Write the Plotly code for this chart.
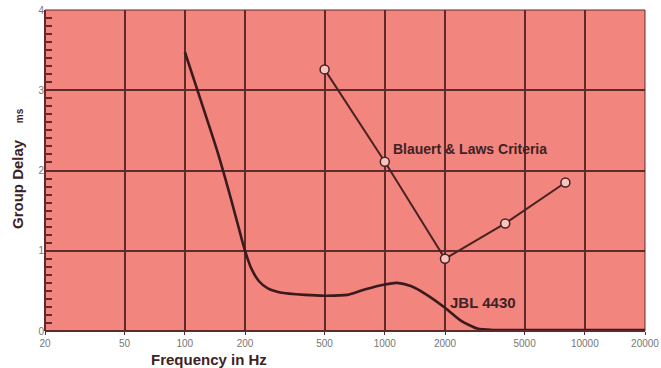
import numpy as np
import plotly.graph_objects as go

# Data
jbl_freq = [100, 120, 145, 170, 190, 200, 215, 235, 260, 300, 400, 500, 650, 800, 1000, 1150, 1350, 1600, 2000, 2400, 2900, 3500, 5000, 10000, 20000]
jbl_delay = [3.48, 2.88, 2.25, 1.65, 1.2, 1.0, 0.78, 0.62, 0.53, 0.48, 0.45, 0.44, 0.45, 0.52, 0.58, 0.6, 0.56, 0.46, 0.29, 0.13, 0.03, 0.012, 0.012, 0.012, 0.012]

blauert_freq = [500, 1000, 2000, 4000, 8000]
blauert_delay = [3.26, 2.11, 0.9, 1.34, 1.85]

x_tickvals = [20, 50, 100, 200, 500, 1000, 2000, 5000, 10000, 20000]
x_ticktext = ["20", "50", "100", "200", "500", "1000", "2000", "5000", "10000", "20000"]
y_tickvals = [0, 1, 2, 3, 4]

bg = "#F3857F"
grid = "rgb(94,42,44)"
ink = "#3E2224"
tickc = "#767676"
font = "Liberation Sans, Arial, sans-serif"

fig = go.Figure()
fig.add_trace(go.Scatter(
    x=jbl_freq, y=jbl_delay, mode="lines",
    line=dict(color="#3A1A1C", width=2.6, shape="spline", smoothing=0.6),
    showlegend=False, hoverinfo="skip"))
fig.add_trace(go.Scatter(
    x=blauert_freq, y=blauert_delay, mode="lines+markers",
    line=dict(color="#4A2224", width=2),
    marker=dict(symbol="circle", size=9, color="#F6C6BE", line=dict(color="#4A2224", width=1.5)),
    showlegend=False, hoverinfo="skip"))

fig.update_layout(
    width=661, height=368,
    margin=dict(l=45, r=16, t=10, b=37, autoexpand=False),
    plot_bgcolor=bg,
    xaxis=dict(
        type="log", range=[np.log10(20), np.log10(20000)],
        tickvals=x_tickvals, ticktext=x_ticktext,
        showgrid=True, gridcolor=grid, gridwidth=1.5,
        ticks="outside", ticklen=3, tickcolor=grid,
        tickfont=dict(size=10, color=tickc, family=font),
    ),
    yaxis=dict(
        range=[0, 4], tickvals=y_tickvals, layer="above traces",
        showgrid=True, gridcolor=grid, gridwidth=1.5,
        zerolinecolor=grid, zerolinewidth=2,
        ticks="inside", ticklen=7, tickcolor=grid, tickwidth=2,
        tickfont=dict(size=10, color=tickc, family=font),
        minor=dict(ticks="inside", dtick=0.1, ticklen=7, tickcolor=grid, tickwidth=2),
    ),
    annotations=[
        dict(text="<b>Blauert & Laws Criteria</b>", x=np.log10(20) + 2.125, y=2.27,
             xref="x", yref="y", showarrow=False, font=dict(size=14, color=ink, family=font)),
        dict(text="<b>JBL 4430</b>", x=np.log10(20) + 2.19, y=0.36,
             xref="x", yref="y", showarrow=False, font=dict(size=15, color=ink, family=font)),
        dict(text="<b>Frequency in Hz</b>", x=np.log10(20) + 0.82, y=-28 / 321,
             xref="x", yref="paper", yanchor="middle", showarrow=False,
             font=dict(size=15, color=ink, family=font)),
        dict(text="<b>Group Delay</b>    <span style='font-size:10px'><b>ms</b></span>",
             x=-28 / 600, y=(331 - 169) / 321, xref="paper", yref="paper", textangle=-90,
             xanchor="center", yanchor="middle", showarrow=False,
             font=dict(size=15, color=ink, family=font)),
    ],
    shapes=[
        dict(type="rect", xref="paper", yref="paper", x0=0, y0=0, x1=1, y1=1,
             line=dict(color=grid, width=1), fillcolor="rgba(0,0,0,0)", layer="above"),
        dict(type="line", xref="paper", yref="paper", x0=0, y0=0, x1=0, y1=1,
             line=dict(color=grid, width=2), layer="above"),
        dict(type="line", xref="paper", yref="paper", x0=0, y0=0, x1=1, y1=0,
             line=dict(color=grid, width=2), layer="above"),
    ],
)

fig.write_html("out.html")
